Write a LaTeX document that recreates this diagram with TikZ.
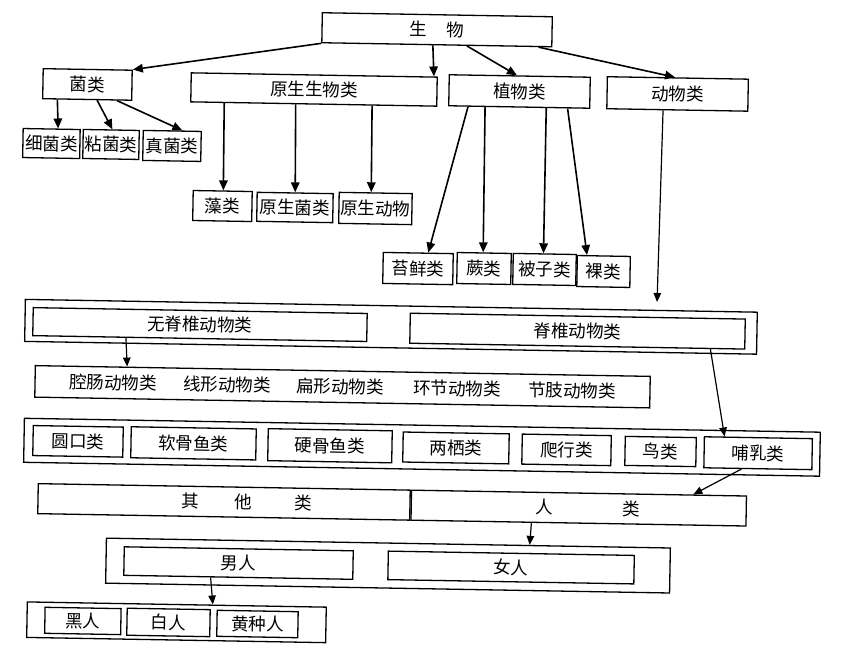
\documentclass[tikz,border=0pt]{standalone}
\usepackage{fontspec}
\setmainfont{Noto Sans CJK SC}
\usetikzlibrary{arrows.meta,calc}
\begin{document}
\begin{tikzpicture}[x=1pt,y=-1pt,
  box/.style={draw=black, line width=1.3pt, inner sep=0pt, font=\fontsize{17.5}{17.5}\selectfont},
  sz/.style 2 args={minimum width=#1pt, minimum height=#2pt},
  lbl/.style={inner sep=0pt, font=\fontsize{17.5}{17.5}\selectfont},
  arr/.style={line width=1.6pt, -{Triangle[length=10pt,width=8.5pt]}},
  thinarr/.style={line width=1.2pt, -{Triangle[length=9pt,width=7.5pt]}}]
\useasboundingbox (0,0) rectangle (842,649);
\begin{scope}[rotate around={-1:(421,325)}, transform shape]
% top level
\node[box, sz={230}{30}] (sw) at (431.9,29.5) {生\hspace{19.5pt}物};
% fungi
\node[box, sz={89}{30}] (jun) at (83.3,90.3) {菌类};
\node[box, sz={57}{29}] (xijun) at (48.3,150.0) {细菌类};
\node[box, sz={56}{29}] (zhanjun) at (107.9,149.9) {粘菌类};
\node[box, sz={58}{30}] (zhenjun) at (168.9,150.3) {真菌类};
% protists
\node[box, sz={246}{29}] (yuansheng) at (309.9,91.4) {原生生物类};
\node[box, sz={59}{30}] (zao) at (220.4,209.5) {藻类};
\node[box, sz={76}{29}] (ysjun) at (292.9,209.7) {原生菌类};
\node[box, sz={73}{31}] (ysdw) at (373.4,209.3) {原生动物};
% plants
\node[box, sz={141}{31}] (zhiwu) at (515.4,89.8) {植物类};
\node[box, sz={70}{31}] (taixian) at (417.0,268.6) {苔鲜类};
\node[box, sz={54}{31}] (jue) at (483.0,267.4) {蕨类};
\node[box, sz={63}{31}] (beizi) at (543.5,267.3) {被子类};
\node[box, sz={53}{31}] (luo) at (602.6,268.3) {裸类};
% animals
\node[box, sz={141}{32}] (dongwu) at (673.5,89.5) {动物类};
\coordinate (dwend) at (656.6,297.9);

% invertebrates / vertebrates
\node[box, sz={732}{42}] (rowA) at (391,327.3) {};
\node[box, sz={334}{28}] (wuji) at (200,328.4) {无脊椎动物类};
\node[box, sz={335}{30}] (jizhui) at (577.6,328.4) {脊椎动物类};

\node[box, sz={615}{31.5}] (qiang) at (343.6,388.1) {};
\node[lbl] (t1) at (114,388) {腔肠动物类};
\node[lbl] (t2) at (228,388) {线形动物类};
\node[lbl] (t3) at (341,388) {扁形动物类};
\node[lbl] (t4) at (458,388) {环节动物类};
\node[lbl] (t5) at (573,388) {节肢动物类};

% vertebrate classes
\node[box, sz={796}{44}] (rowB) at (424.1,447.2) {};
\node[box, sz={90}{30}] (yuankou) at (80.1,447.3) {圆口类};
\node[box, sz={125}{31}] (ruangu) at (195.6,447.3) {软骨鱼类};
\node[box, sz={124}{32}] (yinggu) at (332.1,447.3) {硬骨鱼类};
\node[box, sz={106}{30}] (liangqi) at (458.1,447.3) {两栖类};
\node[box, sz={89}{30}] (paxing) at (568.7,447.3) {爬行类};
\node[box, sz={71}{29}] (niao) at (662.7,447.3) {鸟类};
\node[box, sz={108}{31}] (buru) at (760.3,447.3) {哺乳类};

% mammals
\node[box, sz={372}{30}] (qita) at (227.1,505.3) {\hspace*{45pt}其\hspace{35.5pt}他\hspace{42.5pt}类};
\node[box, sz={335}{30}, anchor=west] (renlei) at (qita.east) {\hspace*{18pt}人\hspace{69.5pt}类};

% humans
\node[box, sz={564}{45}] (rowC) at (392.2,566.1) {};
\node[box, sz={229}{28.5}] (nanren) at (242.7,566.2) {男人};
\node[box, sz={246}{28.5}] (nvren) at (515.3,565.9) {女人};

\node[box, sz={299}{35.5}] (rowD) at (181.7,626.5) {};
\node[box, sz={76}{26}] (heiren) at (88.1,626.8) {黑人};
\node[box, sz={83}{27}] (bairen) at (173.7,626.8) {白人};
\node[box, sz={81}{26}] (huang) at (262.7,626.8) {黄种人};

% connectors from the root
\draw[arr] (sw.south west) -- (jun.north east);
\draw[arr] ($(sw.south west)!0.483!(sw.south east)$) -- ($(yuansheng.north west)!0.984!(yuansheng.north east)$);
\draw[arr] ($(sw.south west)!0.63!(sw.south east)$) -- ($(zhiwu.north west)!0.48!(zhiwu.north east)$);
\draw[arr] ($(sw.south west)!0.94!(sw.south east)$) -- ($(dongwu.north west)!0.48!(dongwu.north east)$);
% fungi
\draw[arr] ($(jun.south west)!0.17!(jun.south east)$) -- ($(xijun.north west)!0.61!(xijun.north east)$);
\draw[arr] ($(jun.south west)!0.61!(jun.south east)$) -- ($(zhanjun.north west)!0.52!(zhanjun.north east)$);
\draw[arr] ($(jun.south west)!0.83!(jun.south east)$) -- ($(zhenjun.north west)!0.67!(zhenjun.north east)$);
% protists
\draw[arr] ($(yuansheng.south west)!0.138!(yuansheng.south east)$) -- ($(zao.north west)!0.51!(zao.north east)$);
\draw[arr] ($(yuansheng.south west)!0.427!(yuansheng.south east)$) -- ($(ysjun.north west)!0.5!(ysjun.north east)$);
\draw[arr] ($(yuansheng.south west)!0.736!(yuansheng.south east)$) -- ($(ysdw.north west)!0.44!(ysdw.north east)$);
% plants
\draw[arr] ($(zhiwu.south west)!0.14!(zhiwu.south east)$) -- ($(taixian.north west)!0.64!(taixian.north east)$);
\draw[arr] ($(zhiwu.south west)!0.26!(zhiwu.south east)$) -- ($(jue.north west)!0.48!(jue.north east)$);
\draw[arr] ($(zhiwu.south west)!0.69!(zhiwu.south east)$) -- ($(beizi.north west)!0.48!(beizi.north east)$);
\draw[arr] ($(zhiwu.south west)!0.84!(zhiwu.south east)$) -- ($(luo.north west)!0.19!(luo.north east)$);
% animals
\draw[thinarr] ($(dongwu.south west)!0.40!(dongwu.south east)$) -- (dwend);
\draw[thinarr] ($(wuji.south west)!0.28!(wuji.south east)$) -- ($(qiang.north west)!0.15!(qiang.north east)$);
\draw[thinarr] ($(jizhui.south west)!0.896!(jizhui.south east)$) -- ($(buru.north west)!0.19!(buru.north east)$);
\draw[thinarr] ($(buru.south west)!0.35!(buru.south east)$) -- ($(renlei.north west)!0.84!(renlei.north east)$);
\draw[thinarr] ($(renlei.south west)!0.36!(renlei.south east)$) -- ($(rowC.north west)!0.75!(rowC.north east)$);
\draw[thinarr] ($(nanren.south west)!0.38!(nanren.south east)$) -- ($(rowD.north west)!0.62!(rowD.north east)$);
\end{scope}
\end{tikzpicture}
\end{document}
